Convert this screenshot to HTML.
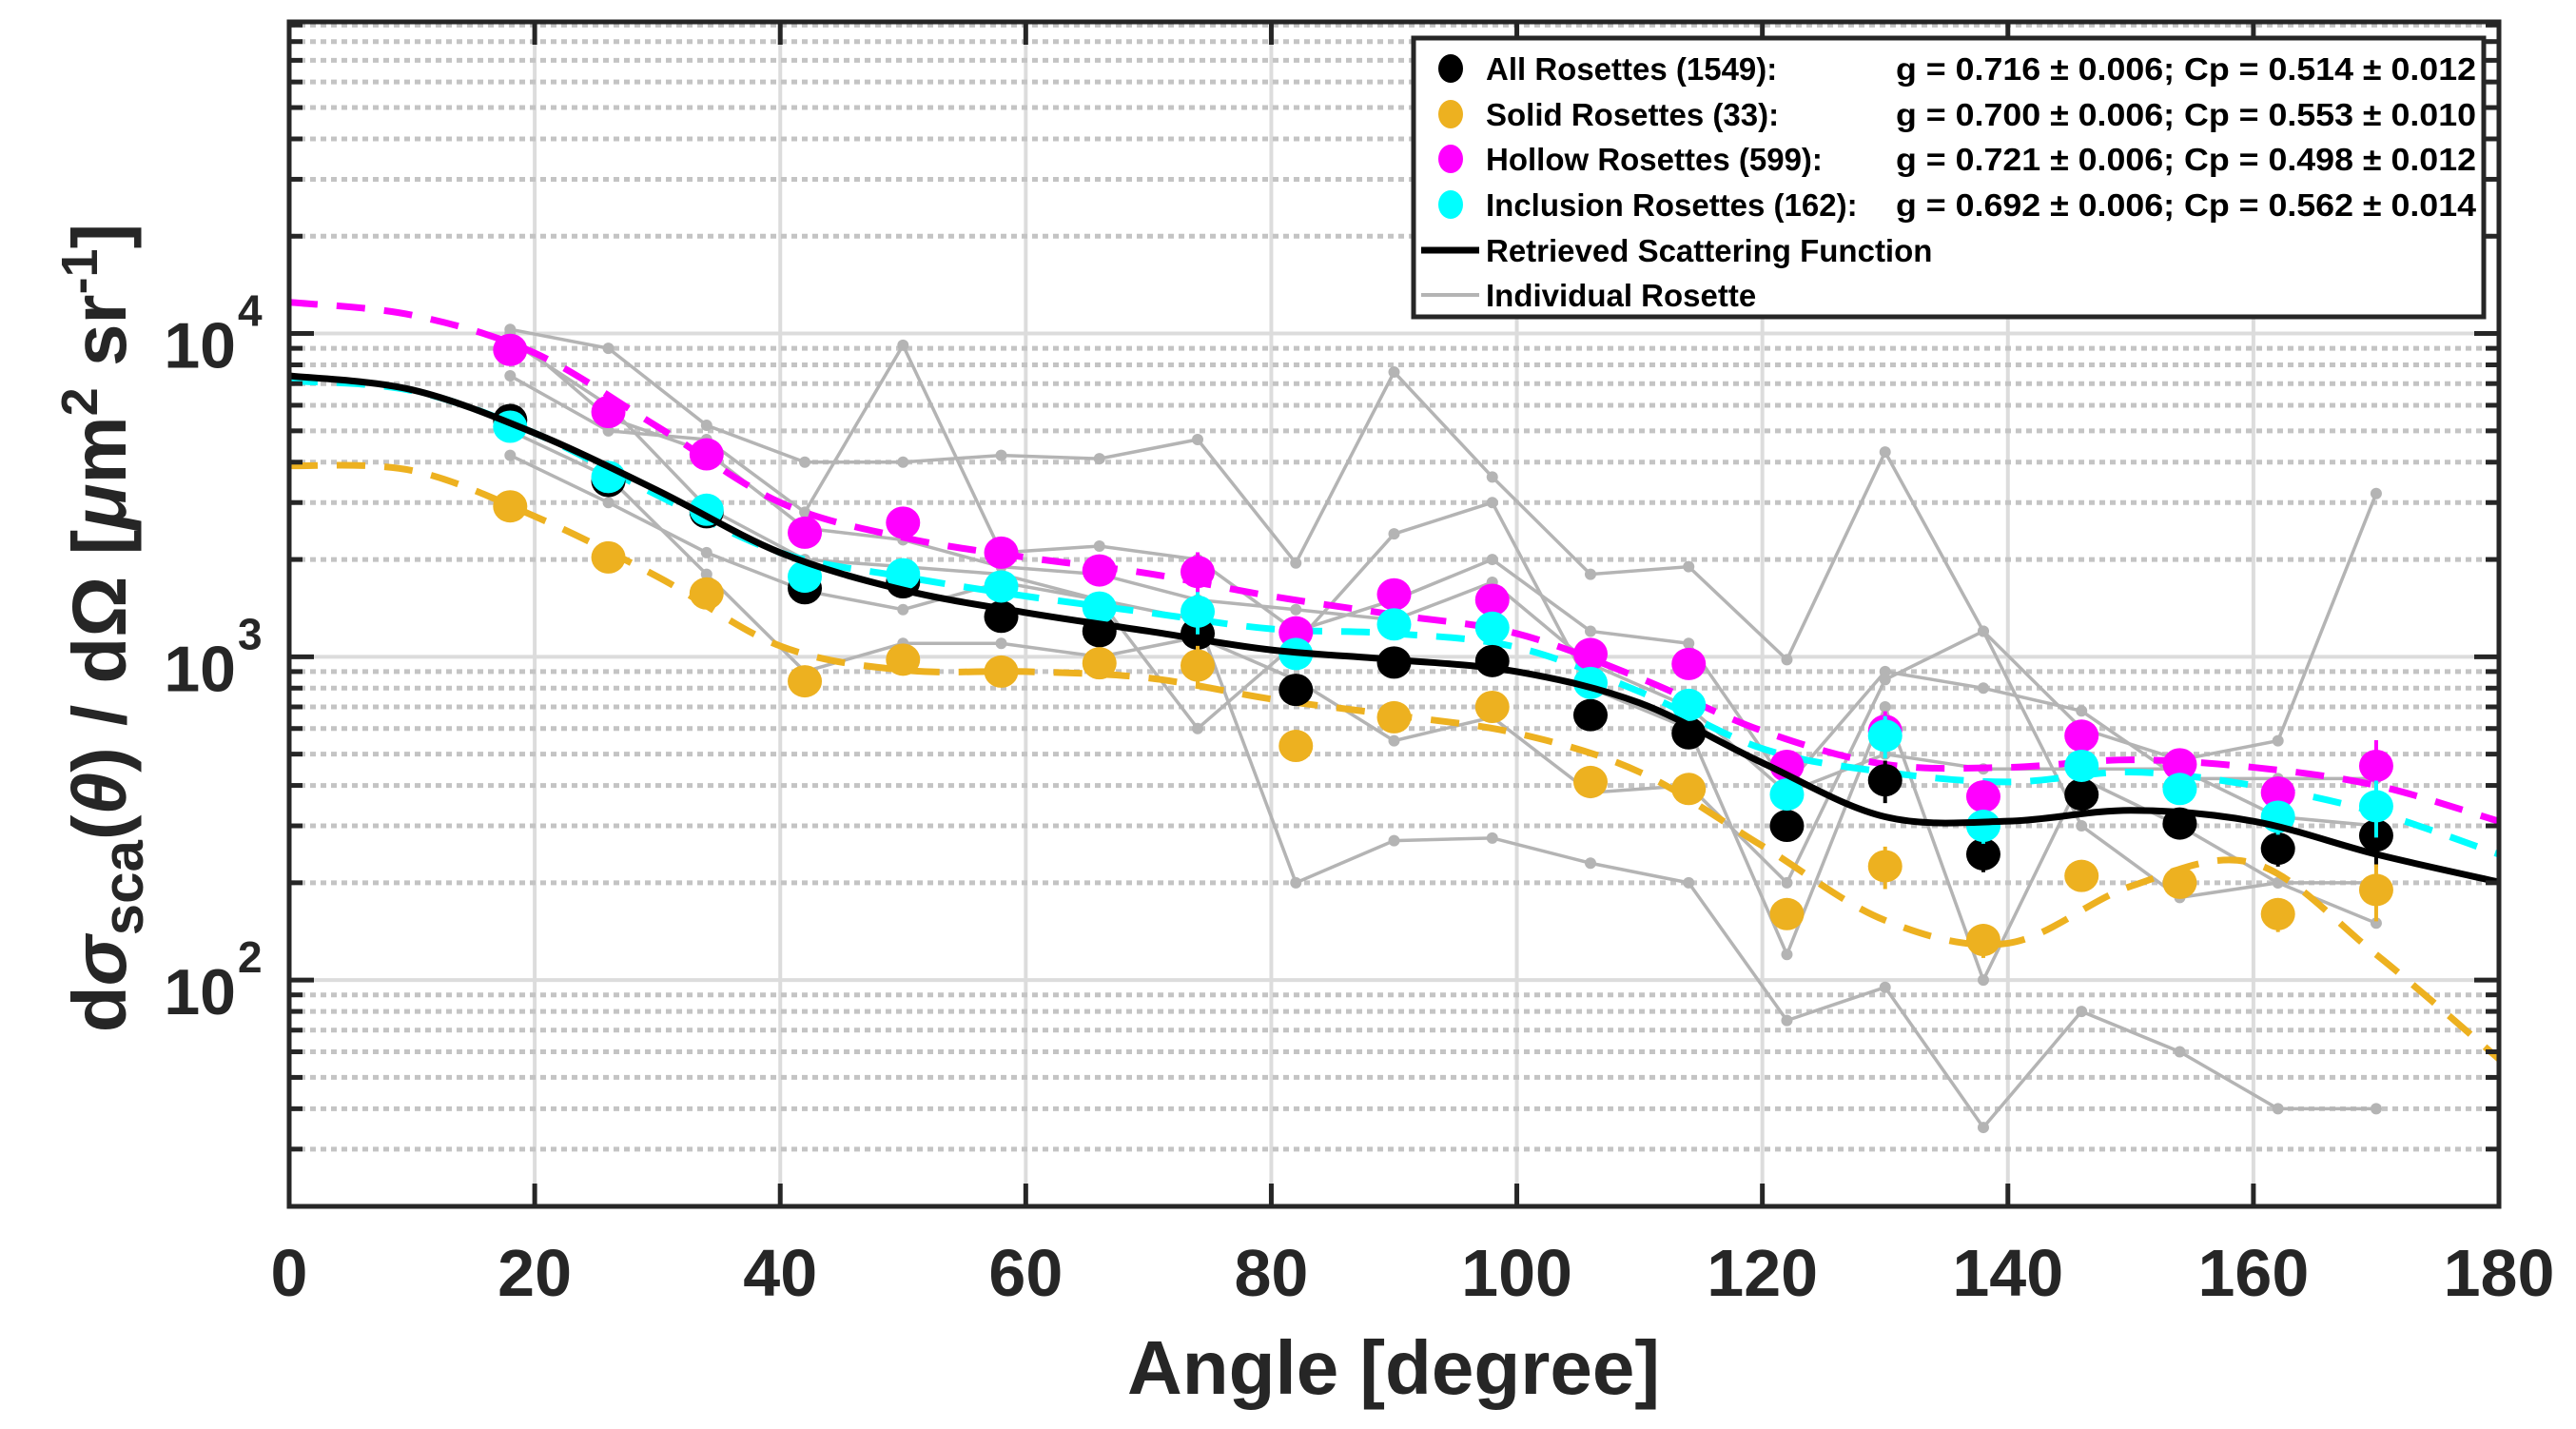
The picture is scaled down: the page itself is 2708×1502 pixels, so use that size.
<!DOCTYPE html>
<html><head><meta charset="utf-8"><style>
html,body{margin:0;padding:0;background:#fff;}
svg{display:block;font-family:"Liberation Sans",Arial,sans-serif;font-weight:bold;}
</style></head><body>
<svg id="chart" width="2708" height="1502" viewBox="0 0 2708 1502" xmlns="http://www.w3.org/2000/svg">
<g id="grid"></g>
<g id="series"></g>
<rect x="304" y="23" width="2323" height="1245" fill="none" stroke="#262626" stroke-width="5"/>
<g id="ticks"></g>
<text x="1465" y="1465" font-size="80" text-anchor="middle" fill="#262626">Angle [degree]</text>
<text transform="translate(132,660) rotate(-90)" font-size="80" text-anchor="middle" fill="#262626">d<tspan font-style="italic">σ</tspan><tspan font-size="60" dy="18">sca</tspan><tspan dy="-18">(</tspan><tspan font-style="italic">θ</tspan>) / dΩ [<tspan font-style="italic">μ</tspan>m<tspan font-size="54" dy="-30">2</tspan><tspan dy="30"> sr</tspan><tspan font-size="54" dy="-30">-1</tspan><tspan dy="30">]</tspan></text>
<g id="legend">
<rect x="1486" y="40" width="1125" height="293" fill="#fff" stroke="#262626" stroke-width="5"/>
</g>
</svg>
<script>
const angles=[18,26,34,42,50,58,66,74,82,90,98,106,114,122,130,138,146,154,162,170];
const allVals=[5400,3500,2800,1630,1700,1330,1200,1180,790,960,970,660,580,300,415,245,375,305,255,280];
const solidVals=[2920,2030,1570,840,980,900,955,940,530,650,700,410,390,160,225,133,210,200,160,190];
const hollowVals=[8900,5720,4230,2420,2600,2100,1850,1830,1190,1560,1500,1020,950,460,590,370,570,465,380,460];
const inclVals=[5150,3600,2850,1770,1800,1650,1420,1380,1020,1260,1230,830,710,375,570,300,460,390,320,345];
const relErr=[0.06,0.06,0.06,0.08,0.06,0.08,0.06,0.15,0.06,0.1,0.06,0.1,0.1,0.1,0.15,0.12,0.1,0.1,0.12,0.2];
const fitAngles=[0,10,20,30,40,50,60,70,80,90,100,110,120,130,140,150,160,170,180];
const fitAll=[7400,6700,4920,3270,2100,1610,1370,1200,1050,980,900,720,470,320,310,335,310,245,201];
const fitHollow=[12500,11400,8700,5150,3000,2340,2030,1810,1540,1350,1180,860,590,465,455,480,455,400,310];
const fitIncl=[7140,6660,4920,3160,2100,1770,1540,1370,1220,1180,1070,780,520,440,410,440,400,330,245];
const fitSolid=[3900,3770,2720,1770,1080,910,900,860,740,660,580,440,260,153,130,195,230,120,57];
const indiv1=[10300,9000,5200,4000,4000,4200,4100,4700,1950,7600,3600,1800,1900,980,4300,1200,600,480,550,3200];
const indiv2=[7400,5000,4700,2800,9200,2100,2200,2000,1200,1500,2000,1200,1100,400,900,800,680,420,420,420];
const indiv3=[4200,3000,2100,1600,1400,1700,1500,1300,200,270,275,230,200,75,95,35,80,60,40,40];
const indiv4=[9500,6000,2900,2000,1900,1800,1500,600,1100,2400,3000,800,600,120,700,100,420,300,200,200];
const indiv5=[5000,3600,1800,900,1100,1100,1000,1150,850,550,650,380,400,200,850,1200,300,180,200,150];
const indiv6=[10000,5500,4300,2500,2300,1900,1800,1500,1400,1300,1700,950,700,380,500,450,450,450,320,300];
const xTicks=[0,20,40,60,80,100,120,140,160,180];
const yMajor=[100,1000,10000];
const yTickExp=["2","3","4"];
const legendNames=["All Rosettes (1549):","Solid Rosettes (33):","Hollow Rosettes (599):","Inclusion Rosettes (162):"];
const legendStats=["g = 0.716 ± 0.006; Cp = 0.514 ± 0.012","g = 0.700 ± 0.006; Cp = 0.553 ± 0.010","g = 0.721 ± 0.006; Cp = 0.498 ± 0.012","g = 0.692 ± 0.006; Cp = 0.562 ± 0.014"];

const NS="http://www.w3.org/2000/svg";
const L=304,R=2627,T=23,B=1268,LMIN=1.3,LMAX=4.964;
const X=a=>L+(a/180)*(R-L);
const Y=v=>B-(Math.log10(v)-LMIN)/(LMAX-LMIN)*(B-T);
function mk(tag,attrs,parent){const e=document.createElementNS(NS,tag);for(const k in attrs)e.setAttribute(k,attrs[k]);parent.appendChild(e);return e;}
const grid=document.getElementById('grid'),ser=document.getElementById('series'),ticks=document.getElementById('ticks'),leg=document.getElementById('legend');

xTicks.slice(1,-1).forEach(a=>{const e=mk('line',{x1:X(a),x2:X(a),y1:T,y2:B,stroke:'#dcdcdc','stroke-width':4},grid);

});
for(let d=1;d<=4;d++){for(let m=1;m<=9;m++){const v=m*Math.pow(10,d);const y=Y(v);if(y<T+2||y>B-2)continue;
 const major=(m===1);
 const e=mk('line',{x1:L,x2:R,y1:y,y2:y,stroke:major?'#dcdcdc':'#c4c4c4','stroke-width':major?4:5,'stroke-dasharray':major?'none':'6 5'},grid);
 
 
 const t1=mk('line',{x1:L,x2:L+(major?26:14),y1:y,y2:y,stroke:'#262626','stroke-width':5},ticks);
 
 
 const t2=mk('line',{x1:R,x2:R-(major?26:14),y1:y,y2:y,stroke:'#262626','stroke-width':5},ticks);
 
 }}
xTicks.forEach(a=>{const x=X(a);
 const t1=mk('line',{x1:x,x2:x,y1:B,y2:B-24,stroke:'#262626','stroke-width':5},ticks);
 
 
 const t2=mk('line',{x1:x,x2:x,y1:T,y2:T+24,stroke:'#262626','stroke-width':5},ticks);
 
 
 const tx=mk('text',{x:x,y:1362,'font-size':70,'text-anchor':'middle',fill:'#262626'},ticks);tx.textContent=a;
 
 });
yMajor.forEach((v,i)=>{const y=Y(v);
 const tx=mk('text',{x:248,y:y+36,'font-size':68,'text-anchor':'end',fill:'#262626'},ticks);tx.textContent='10';
 
 
 const ex=mk('text',{x:250,y:y-8,'font-size':46,fill:'#262626'},ticks);ex.textContent=yTickExp[i];
 
 });

[indiv1,indiv2,indiv3,indiv4,indiv5,indiv6].forEach(arr=>{
 const p=mk('polyline',{points:arr.map((v,i)=>X(angles[i])+','+Y(v)).join(' '),fill:'none',stroke:'#b4b4b4','stroke-width':3.5},ser);
 
 
 arr.forEach((v,i)=>{const c=mk('circle',{cx:X(angles[i]),cy:Y(v),r:6,fill:'#b4b4b4'},ser);
 
 });});

function smoothPath(px){let d='M'+px[0][0]+','+px[0][1];
 for(let i=0;i<px.length-1;i++){const p0=px[Math.max(0,i-1)],p1=px[i],p2=px[i+1],p3=px[Math.min(px.length-1,i+2)];
  const c1x=p1[0]+(p2[0]-p0[0])/6,c1y=p1[1]+(p2[1]-p0[1])/6,c2x=p2[0]-(p3[0]-p1[0])/6,c2y=p2[1]-(p3[1]-p1[1])/6;
  d+=' C'+c1x+','+c1y+' '+c2x+','+c2y+' '+p2[0]+','+p2[1];}
 return d;}
function fit(arr,color,dash,name){const p=mk('path',{d:smoothPath(arr.map((v,i)=>[X(fitAngles[i]),Y(v)])),fill:'none',stroke:color,'stroke-width':7,'stroke-dasharray':dash},ser);
 
 }
function pts(arr,color,name){arr.forEach((v,i)=>{const x=X(angles[i]);
 const e=mk('line',{x1:x,x2:x,y1:Y(v*(1+relErr[i])),y2:Y(v*(1-relErr[i])),stroke:color,'stroke-width':4},ser);
 
 
 const c=mk('ellipse',{cx:x,cy:Y(v),rx:18,ry:17,fill:color},ser);
 
 });}
fit(fitSolid,'#EDB120','30 20','solid-fit-line');
fit(fitHollow,'#FF00FF','30 20','hollow-fit-line');
fit(fitIncl,'#00FFFF','30 20','inclusion-fit-line');
pts(allVals,'#000000','all-rosettes');
pts(solidVals,'#EDB120','solid-rosettes');
pts(hollowVals,'#FF00FF','hollow-rosettes');
pts(inclVals,'#00FFFF','inclusion-rosettes');
fit(fitAll,'#000000','none','retrieved-scattering-function');

const legColors=['#000000','#EDB120','#FF00FF','#00FFFF'];
const rowY=[72,120,167,215,263,310];
legColors.forEach((c,i)=>{
 const m=mk('ellipse',{cx:1525,cy:rowY[i],rx:13,ry:15,fill:c},leg);
 
 
 const t=mk('text',{x:1562,y:rowY[i]+12,'font-size':33,fill:'#000'},leg);t.textContent=legendNames[i];
 
 
 const s=mk('text',{x:1993,y:rowY[i]+12,'font-size':33,fill:'#000',textLength:610,lengthAdjust:'spacingAndGlyphs'},leg);s.textContent=legendStats[i];
 
 });
[['#000','Retrieved Scattering Function',7],['#b4b4b4','Individual Rosette',4]].forEach((d,j)=>{const y=rowY[4+j];
 const l=mk('line',{x1:1494,x2:1555,y1:y,y2:y,stroke:d[0],'stroke-width':d[2]},leg);
 
 
 const t=mk('text',{x:1562,y:y+12,'font-size':33,fill:'#000'},leg);t.textContent=d[1];
 
 });
</script>
</body></html>
